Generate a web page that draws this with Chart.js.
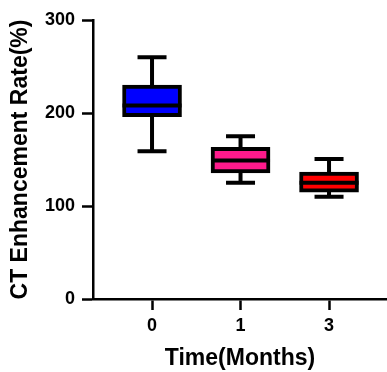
<!DOCTYPE html>
<html>
<head>
<meta charset="utf-8">
<script src="https://cdn.jsdelivr.net/npm/chart.js@4/dist/chart.umd.min.js"></script>
<style>
  html, body { margin: 0; padding: 0; background: #fff; }
  #wrap { width: 387px; height: 372px; }
</style>
</head>
<body>
<div id="wrap"><canvas id="c" width="387" height="372"></canvas></div>
<script>
// ---- data ----
const categories  = ['0', '1', '3'];
const whiskerMin  = [159, 125, 110];
const q1          = [196, 135.5, 115];
const median      = [208, 149, 125];
const q3          = [230, 163, 136.5];
const whiskerMax  = [260, 175, 150.5];
const yTicks      = [0, 100, 200, 300];

const boxColors = ['#0000ff', '#ff1a8c', '#ff0000'];
const FONT = 'Arial, "Liberation Sans", sans-serif';

const boxData = categories.map((c, i) => ({ x: i, y: [q1[i], q3[i]] }));

const whiskerPlugin = {
  id: 'whiskers',
  afterDatasetsDraw(chart) {
    const xs = chart.scales.x, ys = chart.scales.y, ctx = chart.ctx;
    ctx.save();
    ctx.strokeStyle = '#000';
    ctx.lineWidth = 4;
    ctx.lineCap = 'butt';
    const meta = chart.getDatasetMeta(0);
    categories.forEach((c, i) => {
      const x = xs.getPixelForValue(i);
      const yMax = ys.getPixelForValue(whiskerMax[i]);
      const yMin = ys.getPixelForValue(whiskerMin[i]);
      const yQ3 = ys.getPixelForValue(q3[i]);
      const yQ1 = ys.getPixelForValue(q1[i]);
      const yMed = ys.getPixelForValue(median[i]);
      const cap = 14.5;
      ctx.beginPath();
      ctx.moveTo(x, yMax); ctx.lineTo(x, yQ3);
      ctx.moveTo(x, yQ1); ctx.lineTo(x, yMin);
      ctx.moveTo(x - cap, yMax); ctx.lineTo(x + cap, yMax);
      ctx.moveTo(x - cap, yMin); ctx.lineTo(x + cap, yMin);
      ctx.stroke();
      const bar = meta.data[i];
      const half = bar.width / 2;
      ctx.beginPath();
      ctx.moveTo(x - half, yMed); ctx.lineTo(x + half, yMed);
      ctx.stroke();
    });
    ctx.restore();
  }
};

new Chart(document.getElementById('c'), {
  type: 'bar',
  data: {
    datasets: [{
      data: boxData,
      backgroundColor: boxColors,
      borderColor: '#000',
      borderWidth: 4,
      borderSkipped: false,
      barThickness: 59
    }]
  },
  options: {
    responsive: false,
    animation: false,
    events: [],
    layout: { padding: { top: 20, right: 0, bottom: 0, left: 0 } },
    plugins: { legend: { display: false }, tooltip: { enabled: false } },
    scales: {
      x: {
        type: 'linear',
        offset: false,
        min: -0.667,
        max: 2.655,
        afterBuildTicks(s) { s.ticks = categories.map((c, i) => ({ value: i })); },
        afterFit(s) { s.height = 73; },
        ticks: {
          callback: (v) => categories[v],
          color: '#000',
          font: { family: FONT, size: 18, weight: 'bold' },
          padding: 5,
          maxRotation: 0
        },
        grid: { offset: false, drawOnChartArea: false, drawTicks: true, tickLength: 11, tickWidth: 2.5, tickColor: '#000' },
        border: { display: true, color: '#000', width: 2.5 },
        title: {
          display: true,
          text: 'Time(Months)',
          color: '#000',
          font: { family: FONT, size: 23, weight: 'bold' },
          padding: { top: 0, bottom: 0 }
        }
      },
      y: {
        type: 'linear',
        min: 0,
        max: 300,
        afterBuildTicks(s) { s.ticks = yTicks.map(v => ({ value: v })); },
        afterFit(s) { s.width = 93; },
        ticks: {
          color: '#000',
          font: { family: FONT, size: 18, weight: 'bold' },
          padding: 7
        },
        grid: { drawOnChartArea: false, drawTicks: true, tickLength: 11, tickWidth: 2.5, tickColor: '#000' },
        border: { display: true, color: '#000', width: 2.5 },
        title: {
          display: true,
          text: 'CT Enhancement Rate(%)',
          color: '#000',
          font: { family: FONT, size: 23, weight: 'bold' },
          padding: { top: 7, bottom: 0 }
        }
      }
    }
  },
  plugins: [whiskerPlugin]
});
</script>
</body>
</html>
